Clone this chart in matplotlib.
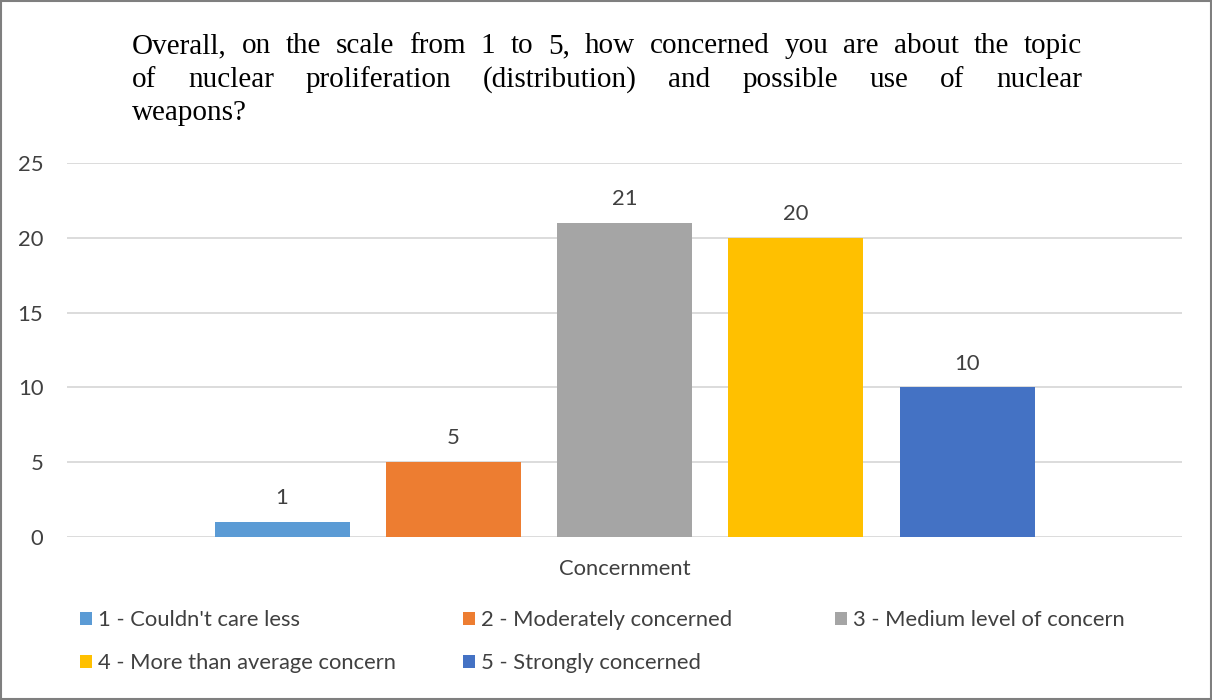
import matplotlib.pyplot as plt
from matplotlib.patches import Rectangle

categories = ['1 - Couldn\'t care less', '2 - Moderately concerned', '3 - Medium level of concern',
              '4 - More than average concern', '5 - Strongly concerned']
values = [1, 5, 21, 20, 10]
colors = ['#5B9BD5', '#ED7D31', '#A5A5A5', '#FFC000', '#4472C4']
group_label = 'Concernment'
yticks = [0, 5, 10, 15, 20, 25]
title_lines = ['Overall, on the scale from 1 to 5, how concerned you are about the topic',
               'of nuclear proliferation (distribution) and possible use of nuclear',
               'weapons?']

W, H = 1212, 700
plt.rcParams['font.family'] = ['Lato', 'DejaVu Sans']
txt = '#404040'
fs = 15.8

fig = plt.figure(figsize=(W / 100, H / 100), dpi=100)
ax = fig.add_axes([67 / W, 163 / H, 1115 / W, 374 / H])

x = list(range(len(values)))
bars = []
for i, (v, c, lab) in enumerate(zip(values, colors, categories)):
    b = ax.bar(x[i], v, width=135 / 171.25, color=c, label=lab, zorder=3)
    bars.append(b)
    ax.annotate(str(v), (x[i], v), xytext=(0, 10), textcoords='offset points',
                ha='center', va='bottom', fontsize=fs, color=txt)

half = 1115 / 2 / 171.25
ax.set_xlim(2 - half, 2 + half)
ax.set_ylim(0, 25)
ax.set_yticks(yticks)
ax.set_xticks([2])
ax.set_xticklabels([group_label])
ax.tick_params(axis='x', length=0, pad=16, labelsize=fs, labelcolor=txt)
ax.tick_params(axis='y', length=0, pad=17, labelsize=fs, labelcolor=txt)
ax.grid(axis='y', color='#d9d9d9', lw=1.3, zorder=0)
for s in ax.spines.values():
    s.set_visible(False)

# legend, one entry per slot
leg_x = [80, 463, 835]
leg_y = [620, 663]
for i, b in enumerate(bars):
    col, row = i % 3, i // 3
    lg = fig.legend(handles=[b], loc='center left',
                    bbox_to_anchor=(leg_x[col] / W, 1 - leg_y[row] / H),
                    frameon=False, fontsize=fs, borderpad=0, borderaxespad=0,
                    handlelength=0.55, handleheight=0.55, handletextpad=0.25)
    for t in lg.get_texts():
        t.set_color(txt)

# title, justified between x0 and x1
r = fig.canvas.get_renderer()
x0, x1 = 132, 1082
baselines = [53, 87, 120]
tfs = 21
for k, line in enumerate(title_lines):
    words = line.split(' ')
    objs = []
    for w in words:
        objs.append(fig.text(0, 1 - baselines[k] / H, w, fontsize=tfs, va='baseline', ha='left',
                             family=['Liberation Serif'], color='black'))
    widths = [o.get_window_extent(r).width for o in objs]
    if k < len(title_lines) - 1:
        gap = (x1 - x0 - sum(widths)) / (len(words) - 1)
    else:
        gap = tfs * 100 / 72 * 0.25
    cur = x0
    for o, wd in zip(objs, widths):
        o.set_x(cur / W)
        cur += wd + gap

fig.patches.append(Rectangle((0.001, 0.001), 0.998, 0.997, transform=fig.transFigure,
                             fill=False, edgecolor='#7f7f7f', lw=1.5))

fig.savefig('out.png', dpi=100)
